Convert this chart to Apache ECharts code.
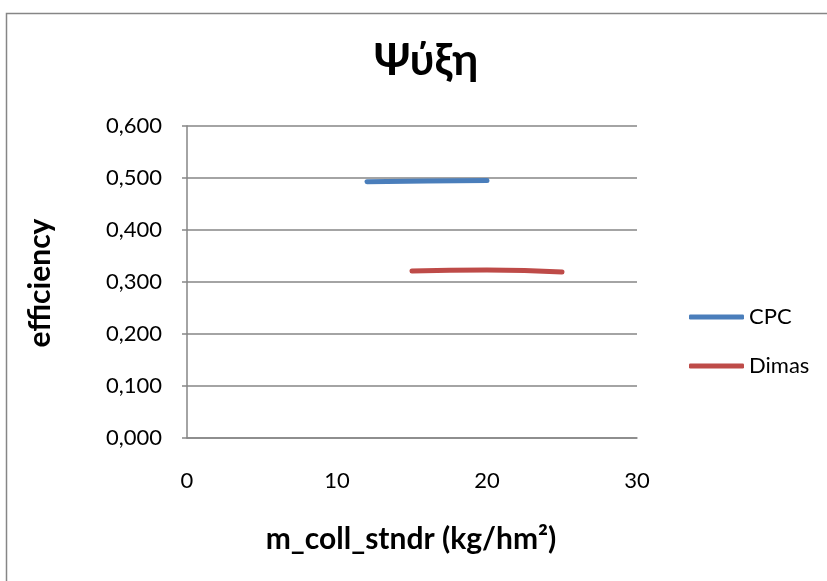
<!DOCTYPE html>
<html>
<head>
<meta charset="utf-8">
<script src="https://cdn.jsdelivr.net/npm/echarts@6/dist/echarts.min.js"></script>
<style>
  html, body { margin: 0; padding: 0; background: #fff; }
  #chart { width: 827px; height: 581px; }
</style>
</head>
<body>
<div id="chart"></div>
<script>
// Collector efficiency vs. standard mass flow (cooling mode)
const cpcFlow = [12, 16, 20];
const cpcEfficiency = [0.493, 0.494, 0.495];
const dimasFlow = [15, 20, 25];
const dimasEfficiency = [0.321, 0.323, 0.319];

const FONT = 'Lato, "Open Sans", sans-serif';
const GRID_COLOR = '#868686';

const chart = echarts.init(document.getElementById('chart'));

const pairs = (xs, ys) => xs.map((x, i) => [x, ys[i]]);
const fmt = v => v.toFixed(3).replace('.', ',');

chart.setOption({
  animation: false,
  backgroundColor: '#fff',
  title: {
    text: 'Ψύξη',
    left: 421,
    top: 34,
    textAlign: 'center',
    textStyle: { fontFamily: FONT, fontSize: 44, fontWeight: 'bold', color: '#000' }
  },
  legend: {
    orient: 'vertical',
    left: 684,
    top: 301,
    itemWidth: 55,
    itemHeight: 5,
    itemGap: 27,
    icon: 'roundRect',
    textStyle: { fontFamily: FONT, fontSize: 22, color: '#000' },
    data: ['CPC', 'Dimas']
  },
  grid: { left: 187, right: 190, top: 126, bottom: 143 },
  xAxis: {
    type: 'value',
    min: 0, max: 30, interval: 10,
    axisLine: { show: true, lineStyle: { color: GRID_COLOR, width: 1.5 } },
    axisTick: { show: false },
    splitLine: { show: false },
    axisLabel: { margin: 32, fontFamily: FONT, fontSize: 22, color: '#000' }
  },
  yAxis: {
    type: 'value',
    min: 0, max: 0.6, interval: 0.1,
    axisLine: { show: true, lineStyle: { color: GRID_COLOR, width: 1.5 } },
    axisTick: { show: true, inside: false, length: 5, lineStyle: { color: GRID_COLOR, width: 1.5 } },
    splitLine: { show: true, lineStyle: { color: GRID_COLOR, width: 1.5 } },
    axisLabel: { margin: 25, fontFamily: FONT, fontSize: 22, color: '#000', formatter: fmt }
  },
  series: [
    {
      name: 'CPC',
      type: 'line',
      smooth: true,
      showSymbol: false,
      color: '#4a7ebb',
      lineStyle: { width: 5, color: '#4a7ebb', cap: 'round' },
      data: pairs(cpcFlow, cpcEfficiency)
    },
    {
      name: 'Dimas',
      type: 'line',
      smooth: true,
      showSymbol: false,
      color: '#be4b48',
      lineStyle: { width: 5, color: '#be4b48', cap: 'round' },
      data: pairs(dimasFlow, dimasEfficiency)
    }
  ],
  graphic: [
    {
      type: 'rect',
      shape: { x: 6.5, y: 13.5, width: 840, height: 600 },
      style: { fill: 'none', stroke: GRID_COLOR, lineWidth: 1.5 },
      silent: true
    },
    {
      type: 'text',
      x: 40, y: 283,
      rotation: Math.PI / 2,
      style: {
        text: 'efficiency',
        fontFamily: FONT, fontSize: 30, fontWeight: 'bold', fill: '#000',
        align: 'center', verticalAlign: 'middle'
      }
    },
    {
      type: 'text',
      x: 411, y: 539,
      style: {
        text: 'm_coll_stndr (kg/hm²)',
        fontFamily: FONT, fontSize: 30, fontWeight: 'bold', fill: '#000',
        align: 'center', verticalAlign: 'middle'
      }
    }
  ]
});
</script>
</body>
</html>
